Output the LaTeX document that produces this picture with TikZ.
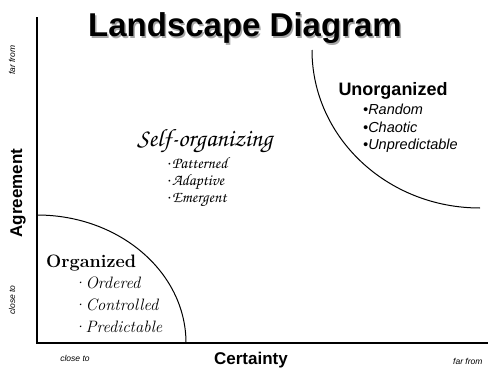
\documentclass[tikz,border=0pt]{standalone}
\usepackage{fontspec}
\usepackage{tikz}
\usetikzlibrary{calc}
\newfontfamily\arialf{Liberation Sans}
\newcommand\chanc{\fontencoding{OT1}\fontfamily{pzc}\fontseries{mb}\fontshape{it}\selectfont}
\tikzset{>=latex}
\tikzset{
  every node/.style={inner sep=0pt},
  axisline/.style={line width=1.3pt},
  zoneline/.style={line width=1pt},
  titletext/.style={font=\arialf\bfseries\fontsize{33}{38}\selectfont, anchor=base},
  axislab/.style={font=\arialf\bfseries\fontsize{17}{20}\selectfont},
  endlab/.style={font=\arialf\itshape\fontsize{8.5}{10}\selectfont},
  unhead/.style={font=\arialf\bfseries\fontsize{18}{21}\selectfont, anchor=base},
  unitem/.style={font=\arialf\itshape\fontsize{14.5}{17}\selectfont, anchor=base west},
  selfhead/.style={font=\chanc\fontsize{25}{29}\selectfont, anchor=base west},
  selfitem/.style={font=\chanc\fontsize{16}{19}\selectfont, anchor=base west},
  orghead/.style={font=\bfseries\fontsize{18}{22}\selectfont, anchor=base west},
  orgitem/.style={font=\itshape\fontsize{16.5}{19}\selectfont, anchor=base west}
}

\begin{document}
\begin{tikzpicture}[x=1pt,y=1pt]
  \useasboundingbox (0,0) rectangle (488,368);

  % Axes
  \coordinate (o) at (37,25);
  \coordinate (ytop) at (37,351);
  \coordinate (xend) at (488,25);
  \draw[axisline] (ytop) -- (o) -- (xend);

  % Zones
  \coordinate (orgtop) at (37,153);
  \coordinate (untop) at (312,318);
  \draw[zoneline] (orgtop) arc[start angle=90,end angle=0,x radius=149,y radius=128];
  \draw[zoneline] (untop) arc[start angle=180,end angle=270,x radius=168,y radius=158];

  % Title
  \node[titletext, text=black!35] (titleshd) at (246.5,329.5) {Landscape Diagram};
  \node[titletext] (title) at (245,331) {Landscape Diagram};

  % Axis labels
  \node[axislab, rotate=90] (agree) at (18,175) {Agreement};
  \node[axislab, anchor=base] (certain) at (251,4) {Certainty};
  \node[endlab, rotate=90] (yfar) at (12,308) {far from};
  \node[endlab, rotate=90] (yclose) at (12,68) {close to};
  \node[endlab] (xclose) at (75,10) {close to};
  \node[endlab, anchor=west] (xfar) at (453,7) {far from};

  % Unorganized
  \node[unhead] (unorg) at (393,273) {Unorganized};
  \node[unitem] (un1) at (363,254) {•Random};
  \node[unitem] (un2) at (363,236) {•Chaotic};
  \node[unitem] (un3) at (363,219) {•Unpredictable};

  % Self-organizing
  \node[selfhead] (selforg) at (137,222) {Self-organizing};
  \node[selfitem] (self1) at (167,200) {$\cdot$Patterned};
  \node[selfitem] (self2) at (167,183) {$\cdot$Adaptive};
  \node[selfitem] (self3) at (167,166) {$\cdot$Emergent};

  % Organized
  \node[orghead] (org) at (46,101) {Organized};
  \node[orgitem] (org1) at (73,80) {·Ordered};
  \node[orgitem] (org2) at (73,58) {·Controlled};
  \node[orgitem] (org3) at (73,36) {·Predictable};
\end{tikzpicture}
\end{document}
